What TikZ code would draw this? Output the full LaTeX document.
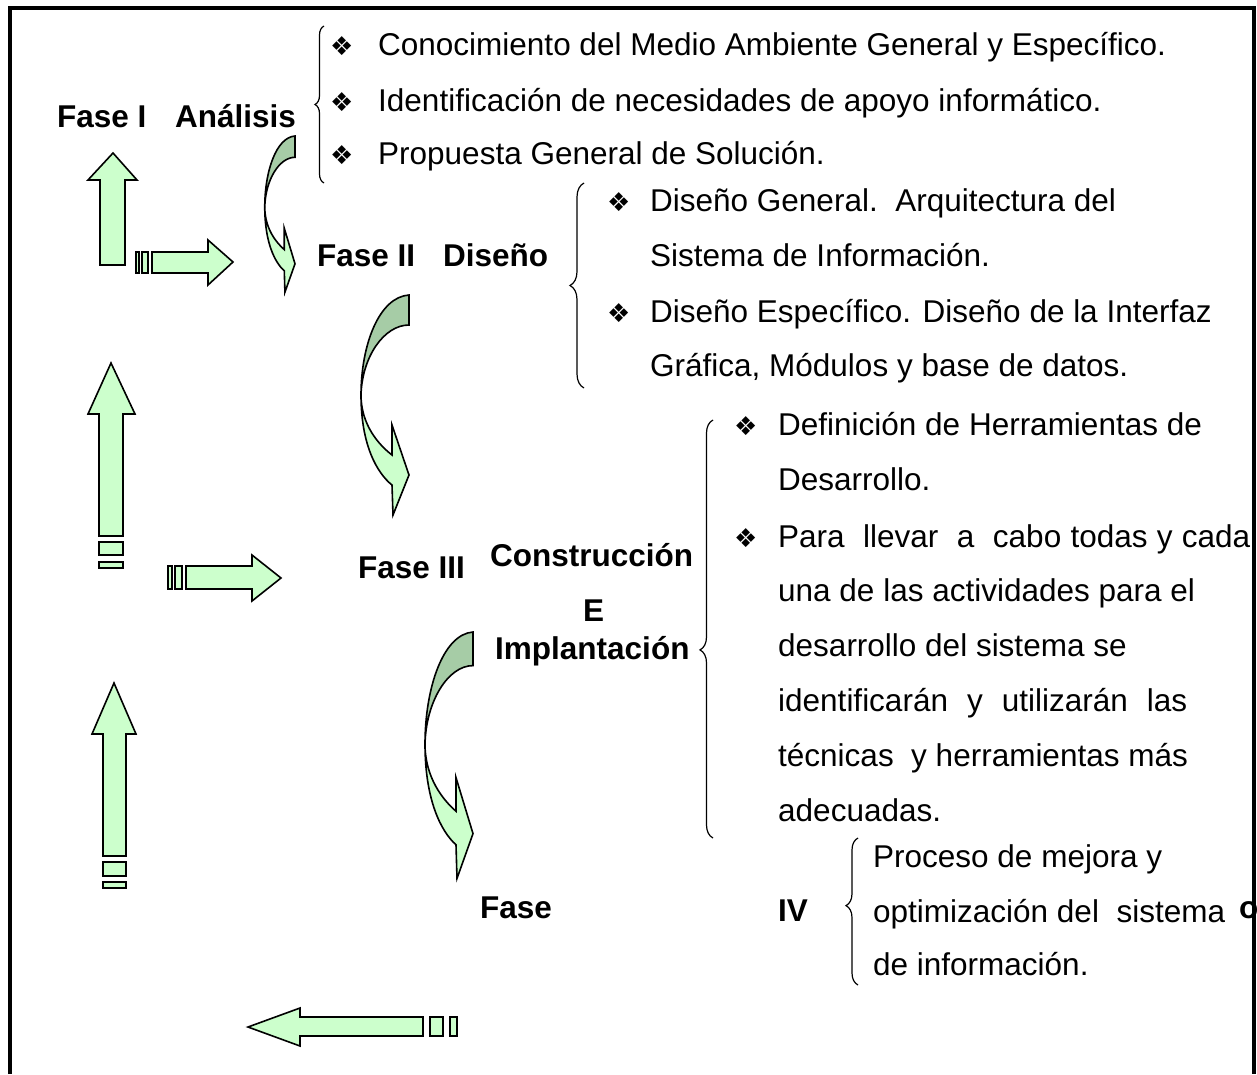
\documentclass[tikz,border=0pt]{standalone}
\usepackage{fontspec}
\setmainfont{Liberation Sans}
\newfontfamily\bulfont{DejaVu Sans}
\usetikzlibrary{decorations.pathreplacing}
\definecolor{lgreen}{RGB}{204,255,204}
\definecolor{dgreen}{RGB}{166,204,166}
\tikzset{
  shp/.style={draw=black,line width=1.6pt,fill=lgreen,line join=miter},
  dshp/.style={draw=black,line width=1.6pt,fill=dgreen,line join=miter},
  txt/.style={anchor=base west,inner sep=0pt,font=\fontsize{31.5}{33}\selectfont},
  btxt/.style={anchor=base west,inner sep=0pt,font=\fontsize{31.5}{33}\selectfont\bfseries},
  bul/.style={anchor=base west,inner sep=0pt,font=\fontsize{26}{28}\selectfont\bulfont},
  brc/.style={draw=black,line width=1.2pt,decorate}
}
\newcommand{\curvarrow}[4]{%
  \begin{scope}[shift={(#1,#2)},xscale=#3,yscale=#4]
    \path[dshp] (0,0) .. controls (-30,2) and (-48,50) .. (-48,100)
      .. controls (-47,62) and (-25,30) .. (0,30) -- cycle;
    \path[shp] (-48,100) .. controls (-48,150) and (-32,178) .. (-17,190)
      -- (-16,220) -- (0,180) -- (-17,130) -- (-17,160)
      .. controls (-30,150) and (-48,130) .. (-48,100) -- cycle;
  \end{scope}}
\begin{document}
\begin{tikzpicture}[x=1pt,y=-1pt]
\useasboundingbox (0,0) rectangle (1257,1074);
\fill[white] (0,0) rectangle (1257,1074);
% ---------- texts ----------
\node[btxt] (f1a) at (57,127) {Fase I};
\node[btxt] (f1b) at (175,127) {Análisis};
\node[bul] (b11) at (330,55) {❖};
\node[bul] (b12) at (330,111) {❖};
\node[bul] (b13) at (330,164) {❖};
\node[txt] (t11) at (378,55) {Conocimiento del Medio Ambiente General y Específico.};
\node[txt] (t12) at (378,111) {Identificación de necesidades de apoyo informático.};
\node[txt] (t13) at (378,164) {Propuesta General de Solución.};

\node[btxt] (f2a) at (317,266) {Fase II};
\node[btxt] (f2b) at (443,266) {Diseño};
\node[bul] (b21) at (607,211) {❖};
\node[bul] (b22) at (607,322) {❖};
\node[txt] (t21) at (650,211) {Diseño General.\ \ Arquitectura del};
\node[txt] (t22) at (650,266) {Sistema de Información.};
\node[txt] (t23) at (650,322) {Diseño Específico. Diseño de la Interfaz};
\node[txt] (t24) at (650,376) {Gráfica, Módulos y base de datos.};

\node[btxt] (f3a) at (358,578) {Fase III};
\node[btxt] (f3b) at (490,566) {Construcción};
\node[btxt] (f3c) at (583,621) {E};
\node[btxt] (f3d) at (495,659) {Implantación};
\node[bul] (b31) at (734,435) {❖};
\node[bul] (b32) at (734,547) {❖};
\node[txt] (t31) at (778,435) {Definición de Herramientas de};
\node[txt] (t32) at (778,490) {Desarrollo.};
\node[txt] (t33) at (778,547) {\makebox[472pt][s]{Para\ \ llevar\ \ a\ \ cabo todas y cada}};
\node[txt] (t34) at (778,601) {una de las actividades para el};
\node[txt] (t35) at (778,656) {desarrollo del sistema se};
\node[txt] (t36) at (778,711) {\makebox[409pt][s]{identificarán y utilizarán las}};
\node[txt] (t37) at (778,766) {técnicas\ \ y herramientas más};
\node[txt] (t38) at (778,821) {adecuadas.};

\node[btxt] (f4a) at (480,918) {Fase};
\node[btxt] (f4b) at (778,921) {IV};
\node[txt] (t41) at (873,867) {Proceso de mejora y};
\node[txt] (t42) at (873,922) {optimización del\ \ sistema};
\node[txt] (t43) at (873,975) {de información.};
\node[btxt] (oo) at (1239,918) {o};

% ---------- braces ----------
\draw[brc,decoration={brace,amplitude=9pt}] (324,183) -- (324,26);
\draw[brc,decoration={brace,amplitude=14pt,aspect=0.5}] (584,388) -- (584,183);
\draw[brc,decoration={brace,amplitude=13pt,aspect=0.45}] (713,838) -- (713,420);
\draw[brc,decoration={brace,amplitude=12pt,aspect=0.54}] (858,985) -- (858,838);

% ---------- curved arrows ----------
\curvarrow{295}{136}{0.63}{0.71}
\curvarrow{409}{295}{1}{1}
\curvarrow{473}{632}{1}{1.12}

% ---------- straight arrows ----------
\path[shp] (100,265) -- (100,180) -- (88,180) -- (113,153) -- (137,180) -- (125,180) -- (125,265) -- cycle;
\path[shp] (136,252) rectangle (139,273);
\path[shp] (142,252) rectangle (148,273);
\path[shp] (152,252) -- (208,252) -- (208,240) -- (233,262) -- (208,285) -- (208,273) -- (152,273) -- cycle;

\path[shp] (99,536) -- (99,414) -- (88,414) -- (111,363) -- (135,414) -- (123,414) -- (123,536) -- cycle;
\path[shp] (99,542) rectangle (123,555);
\path[shp] (99,562) rectangle (123,568);
\path[shp] (168,566) rectangle (172,589);
\path[shp] (175,566) rectangle (182,589);
\path[shp] (186,566) -- (252,566) -- (252,555) -- (281,578) -- (252,601) -- (252,589) -- (186,589) -- cycle;

\path[shp] (103,856) -- (103,734) -- (92,734) -- (114,683) -- (136,734) -- (126,734) -- (126,856) -- cycle;
\path[shp] (103,862) rectangle (126,876);
\path[shp] (103,882) rectangle (126,888);

\path[shp] (423,1017) -- (300,1017) -- (300,1008) -- (248,1027) -- (300,1046) -- (300,1036) -- (423,1036) -- cycle;
\path[shp] (430,1017) rectangle (443,1036);
\path[shp] (450,1017) rectangle (457,1036);

% ---------- frame ----------
\draw[line width=4pt] (9.5,1074) -- (9.5,8) -- (1254,8) -- (1254,1074);
\end{tikzpicture}
\end{document}
